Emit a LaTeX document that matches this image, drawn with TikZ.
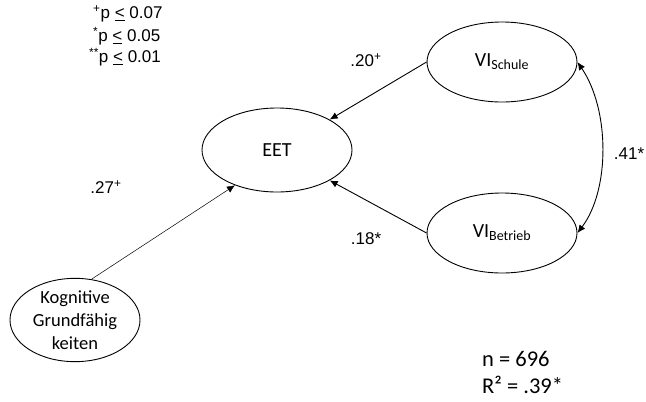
\documentclass[tikz,border=0pt]{standalone}
\usepackage{fontspec}
\setmainfont{Liberation Sans}
\newfontfamily\carlitofont{Carlito}
\usetikzlibrary{shapes.geometric,arrows.meta}
\begin{document}
\begin{tikzpicture}[x=1pt,y=-1pt,
  lat/.style={draw,ellipse,line width=0.9pt,inner sep=0pt,font=\carlitofont\fontsize{20}{22}\selectfont},
  arr/.style={line width=0.9pt,-{Latex[length=8pt,width=7pt]}},
  lab/.style={font=\fontsize{17}{19}\selectfont,inner sep=0pt},
  leg/.style={font=\fontsize{17}{19}\selectfont,inner sep=0pt,anchor=west},
  stat/.style={font=\carlitofont\fontsize{22.5}{25}\selectfont,anchor=west,inner sep=0pt}]
\useasboundingbox (0,0) rectangle (646,402);
\node[lat,minimum width=150pt,minimum height=84pt] (eet) at (277,150) {EET};
\node[lat,minimum width=150pt,minimum height=80pt] (vis) at (502,62) {VI\textsubscript{Schule}};
\node[lat,minimum width=150pt,minimum height=80pt] (vib) at (502,233) {VI\textsubscript{Betrieb}};
\node[lat,minimum width=130pt,minimum height=82pt,align=center,font=\carlitofont\fontsize{18.5}{23}\selectfont] (kog) at (75,320) {Kognitive\\Grundfähig\\keiten};
\draw[arr] (vis.west) -- (eet.30);
\draw[arr] (vib.west) -- (eet.-30);
\draw[arr,line width=0.5pt] (kog.68) -- (eet.-140);
\draw[line width=0.9pt,{Latex[length=8pt,width=7pt]}-{Latex[length=8pt,width=7pt]}] (vis.east) .. controls (610,110) and (610,190) .. (vib.east);
\node[lab] (l20) at (366,60) {.20\textsuperscript{+}};
\node[lab] (l18) at (366,239) {.18*};
\node[lab] (l27) at (106,187) {.27\textsuperscript{+}};
\node[lab] (l41) at (629,154) {.41*};
\node[leg] (p1) at (93,14) {\textsuperscript{+}p \underline{<} 0.07};
\node[leg] (p2) at (93,36) {\textsuperscript{*}p \underline{<} 0.05};
\node[leg] (p3) at (89,57) {\textsuperscript{**}p \underline{<} 0.01};
\node[stat] (n) at (482,359) {n = 696};
\node[stat] (r) at (482,385) {R² = .39*};
\end{tikzpicture}
\end{document}
